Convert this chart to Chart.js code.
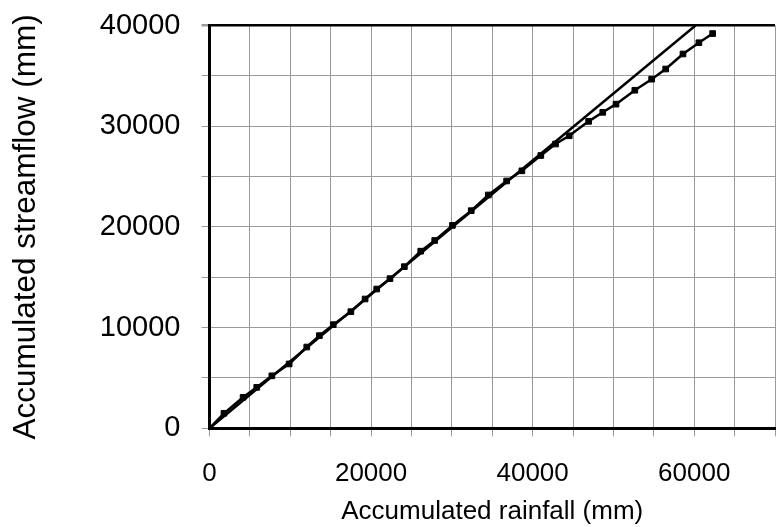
<!DOCTYPE html>
<html>
<head>
<meta charset="utf-8">
<script src="https://cdn.jsdelivr.net/npm/chart.js@4/dist/chart.umd.min.js"></script>
<style>
  html, body { margin: 0; padding: 0; background: #fff; overflow: hidden; }
  #wrap { width: 780px; height: 527px; }
</style>
</head>
<body>
<div id="wrap"><canvas id="massCurve" width="780" height="527"></canvas></div>
<script>
// накопленные осадки и сток (мм)
const rainfall = [0, 1790, 4160, 5850, 7720, 9860, 12040, 13600, 15320, 17500, 19260, 20700,
  22340, 24120, 26150, 27880, 30070, 32400, 34520, 36780, 38670, 41010, 42830, 44530,
  46930, 48680, 50320, 52650, 54730, 56470, 58610, 60580, 62280];
const streamflow = [0, 1490, 3080, 4070, 5210, 6390, 8070, 9200, 10290, 11580, 12840, 13830,
  14860, 16050, 17590, 18650, 20150, 21610, 23170, 24560, 25570, 27090, 28230, 29050,
  30480, 31380, 32190, 33570, 34670, 35680, 37170, 38290, 39200];

// прямая (от начала до верхней границы)
const lineX = [0, 60160];
const lineY = [0, 40000];

const xTicksShown = [0, 20000, 40000, 60000];
const yTicksShown = [0, 10000, 20000, 30000, 40000];

const toPoints = (xs, ys) => xs.map((x, i) => ({ x: x, y: ys[i] }));

const ctx = document.getElementById('massCurve').getContext('2d');

new Chart(ctx, {
  type: 'scatter',
  data: {
    datasets: [
      {
        label: 'Mass curve',
        data: toPoints(rainfall, streamflow),
        showLine: true,
        borderColor: '#000',
        backgroundColor: '#000',
        borderWidth: 2.5,
        pointStyle: 'rect',
        pointRadius: 4,
        pointBorderWidth: 1
      },
      {
        label: 'Straight line',
        data: toPoints(lineX, lineY),
        showLine: true,
        borderColor: '#000',
        borderWidth: 2.5,
        pointRadius: 0
      }
    ]
  },
  options: {
    responsive: false,
    animation: false,
    layout: { padding: { top: 25.5, right: 1.5, bottom: 0, left: 0 } },
    plugins: {
      legend: { display: false },
      tooltip: { enabled: false }
    },
    scales: {
      x: {
        type: 'linear',
        min: 0,
        max: 70000,
        afterFit: scale => {
          scale.height = 98.7;
          scale.paddingLeft = 0;
          scale.paddingRight = 0;
        },
        ticks: {
          stepSize: 5000,
          color: '#000',
          padding: 22,
          maxRotation: 0,
          autoSkip: false,
          font: { family: 'Liberation Sans, Arial, sans-serif', size: 26 },
          callback: v => xTicksShown.includes(v) ? String(v) : ''
        },
        grid: {
          color: '#9a9a9a',
          lineWidth: 1,
          tickLength: 8,
          tickColor: '#9a9a9a'
        },
        border: { color: '#000', width: 3 },
        title: {
          display: true,
          text: 'Accumulated rainfall (mm)',
          color: '#000',
          padding: 0,
          font: { family: 'Liberation Sans, Arial, sans-serif', size: 26 }
        }
      },
      y: {
        type: 'linear',
        min: 0,
        max: 40000,
        afterFit: scale => {
          scale.width = 209.5;
          scale.paddingTop = 0;
          scale.paddingBottom = 0;
        },
        ticks: {
          stepSize: 5000,
          color: '#000',
          padding: 21,
          autoSkip: false,
          font: { family: 'Liberation Sans, Arial, sans-serif', size: 29 },
          callback: v => yTicksShown.includes(v) ? String(v) : ''
        },
        grid: {
          color: c => c.tick && c.tick.value === 40000 ? '#000' : '#9a9a9a',
          lineWidth: c => c.tick && c.tick.value === 40000 ? 2.5 : 1,
          tickLength: 8,
          tickColor: '#9a9a9a'
        },
        border: { color: '#000', width: 3 },
        title: {
          display: true,
          text: 'Accumulated streamflow (mm)',
          color: '#000',
          padding: { top: 7.5, bottom: 0 },
          font: { family: 'Liberation Sans, Arial, sans-serif', size: 31.5 }
        }
      }
    }
  }
});
</script>
</body>
</html>
